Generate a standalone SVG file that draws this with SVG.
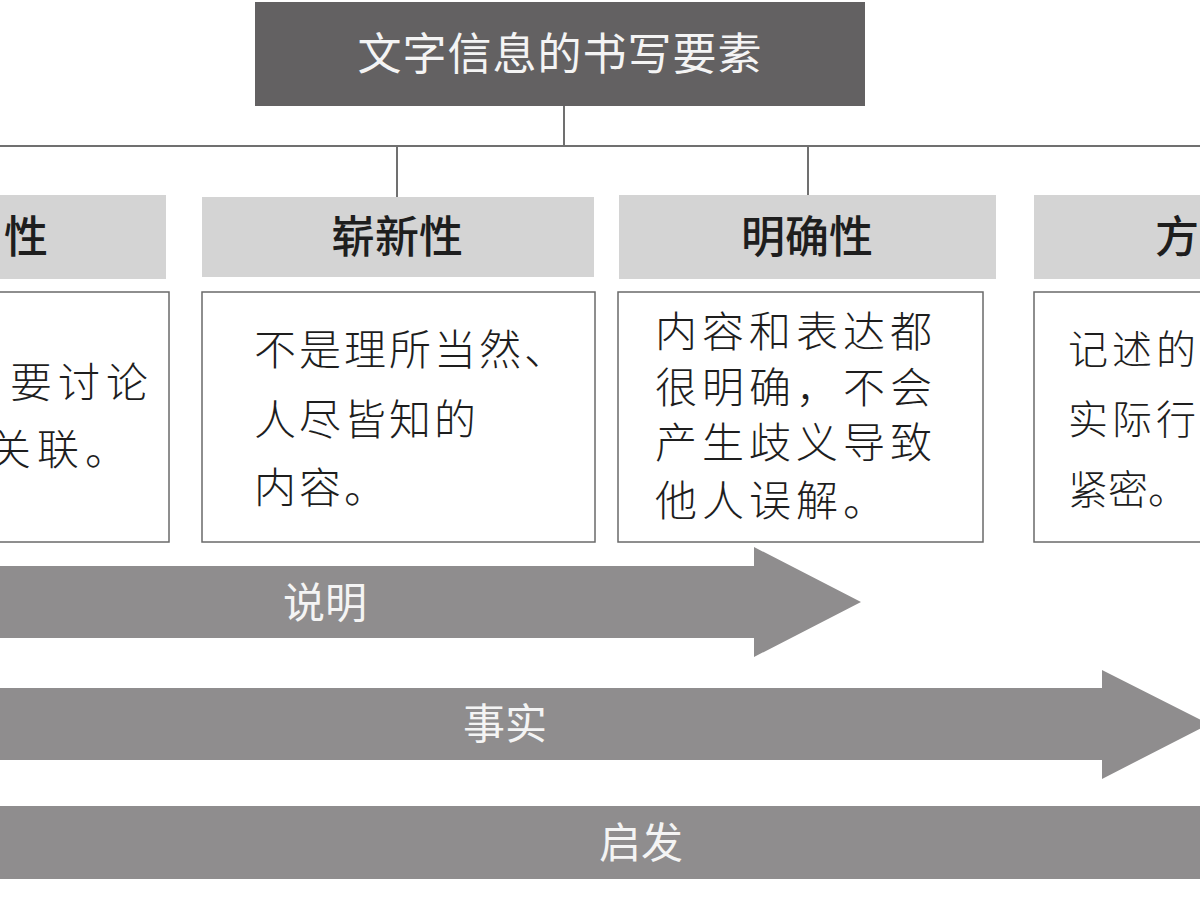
<svg xmlns="http://www.w3.org/2000/svg" width="1200" height="900" viewBox="0 0 1200 900">
<style>
.t{font-family:"Noto Sans CJK SC","Noto Sans",sans-serif}
.title{fill:#f4f4f4;font-size:44px;letter-spacing:1px}
.head{fill:#1e1e1e;font-size:44px;font-weight:500}
.hbox{fill:#d4d4d4}
.cbox{fill:#ffffff;stroke:#6a6a6a;stroke-width:1.5}
.body{fill:#1e1e1e;font-weight:300}
.arrow{fill:#8f8d8e}
.atext{fill:#f4f4f4;font-size:42px}
.conn{stroke:#707070;stroke-width:2;fill:none}
</style>
<rect width="1200" height="900" fill="#ffffff"/>
<g id="connectors">
<line class="conn" x1="564" y1="106" x2="564" y2="146"/>
<line class="conn" x1="0" y1="146" x2="1200" y2="146"/>
<line class="conn" x1="397" y1="146" x2="397" y2="197"/>
<line class="conn" x1="808" y1="146" x2="808" y2="195"/>
</g>
<g id="title">
<rect x="255" y="2" width="610" height="104" fill="#636162"/>
<text class="t title" x="560" y="70" text-anchor="middle">文字信息的书写要素</text>
</g>
<g id="node1">
<rect class="hbox" x="-10" y="195" width="176" height="84"/>
<text class="t head" x="4" y="253">性</text>
<rect class="cbox" x="-10" y="292" width="179" height="250"/>
<text class="t body" x="10" y="398" font-size="42" letter-spacing="6">要讨论</text>
<text class="t body" x="-11" y="465" font-size="42" letter-spacing="6">关联。</text>
</g>
<g id="node2">
<rect class="hbox" x="202" y="197" width="392" height="80"/>
<text class="t head" x="397" y="253" text-anchor="middle">崭新性</text>
<rect class="cbox" x="202" y="292" width="393" height="250"/>
<text class="t body" x="254" y="365" font-size="42" letter-spacing="3">不是理所当然、</text>
<text class="t body" x="254" y="435" font-size="42" letter-spacing="3">人尽皆知的</text>
<text class="t body" x="254" y="503" font-size="42" letter-spacing="3">内容。</text>
</g>
<g id="node3">
<rect class="hbox" x="619" y="195" width="377" height="84"/>
<text class="t head" x="807" y="253" text-anchor="middle">明确性</text>
<rect class="cbox" x="618" y="292" width="365" height="250"/>
<text class="t body" x="655" y="347" font-size="42" letter-spacing="5">内容和表达都</text>
<text class="t body" x="655" y="403" font-size="42" letter-spacing="5">很明确，不会</text>
<text class="t body" x="655" y="458" font-size="42" letter-spacing="5">产生歧义导致</text>
<text class="t body" x="655" y="516" font-size="42" letter-spacing="5">他人误解。</text>
</g>
<g id="node4">
<rect class="hbox" x="1034" y="195" width="180" height="84"/>
<text class="t head" x="1155" y="253">方</text>
<rect class="cbox" x="1034" y="292" width="180" height="250"/>
<text class="t body" x="1068" y="364" font-size="40" letter-spacing="4">记述的</text>
<text class="t body" x="1068" y="434" font-size="40" letter-spacing="4">实际行</text>
<text class="t body" x="1068" y="504" font-size="40" letter-spacing="0">紧密。</text>
</g>
<g id="arrow-shuoming">
<polygon class="arrow" points="-5,566 754,566 754,547 861,602 754,657 754,638 -5,638"/>
<text class="t atext" x="325" y="618" text-anchor="middle">说明</text>
</g>
<g id="arrow-shishi">
<polygon class="arrow" points="-5,688 1102,688 1102,670 1209,724 1102,779 1102,760 -5,760"/>
<text class="t atext" x="505" y="739" text-anchor="middle">事实</text>
</g>
<g id="arrow-qifa">
<rect class="arrow" x="-5" y="806" width="1210" height="73"/>
<text class="t atext" x="641" y="858" text-anchor="middle">启发</text>
</g>
</svg>
